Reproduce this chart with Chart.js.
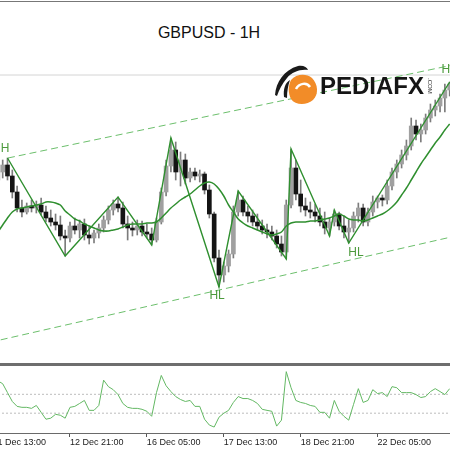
<!DOCTYPE html>
<html lang="en">
<head>
    <meta charset="UTF-8">
    <title>GBPUSD - 1H</title>
    <script src="https://cdn.jsdelivr.net/npm/chart.js"></script>
    <style>
        body {
            margin: 0;
            width: 450px;
            height: 450px;
            overflow: hidden;
            position: relative;
            background: #fff;
            font-family: "Liberation Sans", Arial, sans-serif;
        }
        #topline {
            position: absolute;
            left: 0; top: 1px;
            width: 450px; height: 1px;
            background: #777;
        }
        #title {
            position: absolute;
            left: 0; top: 24px;
            width: 418px;
            text-align: center;
            font-size: 16px;
            line-height: 18px;
            color: #111;
        }
        #priceChart {
            position: absolute;
            left: -10px; top: 40px;
        }
        #separator {
            position: absolute;
            left: 0; top: 363px;
            width: 450px; height: 3px;
            background: #6e6e6e;
        }
        #oscChart {
            position: absolute;
            left: -10px; top: 366px;
        }
        #logo {
            position: absolute;
            left: 0; top: 0;
            pointer-events: none;
        }
    </style>
</head>
<body>
    <div id="topline"></div>
    <div id="title">GBPUSD - 1H</div>
    <canvas id="priceChart" width="470" height="323"></canvas>
    <div id="separator"></div>
    <canvas id="oscChart" width="470" height="84"></canvas>

    <svg id="logo" width="450" height="450" viewBox="0 0 450 450">
        <path d="M275 95 C276 82 284 70 298 66 C303 65 307 67 308 70 C300 69 292 72 287 78 C282 84 279 90 277 96 Z" fill="#1a1a1a"/>
        <path d="M284 97 C283 89 285 83 290 80 C288 86 287 91 287 98 Z" fill="#1a1a1a"/>
        <path d="M291 80 C296 74 306 73 312 78 C318 84 319 94 313 100 C306 106 295 105 291 99 C288 93 288 86 291 80 Z" fill="#f28c28"/>
        <path d="M296 89 C299 83 307 82 310 87" stroke="#fff" stroke-width="2.5" fill="none"/>
        <text x="320" y="94" font-family="Liberation Sans, Arial, sans-serif" font-weight="bold" font-size="24" fill="#151515">PEDIAFX</text>
        <text transform="translate(428,78) rotate(90)" font-family="Liberation Sans, Arial, sans-serif" font-size="6" fill="#333">.COM</text>
    </svg>

    <script>
        // candles (one per two hours), prices
        const opens = [1.2895,1.2903,1.2910,1.2899,1.2883,1.2867,1.2863,1.2869,1.2867,1.2870,
            1.2863,1.2857,1.2853,1.2850,1.2839,1.2837,1.2849,1.2845,1.2851,1.2840,
            1.2837,1.2842,1.2847,1.2855,1.2865,1.2871,1.2867,1.2851,1.2847,1.2845,
            1.2849,1.2843,1.2841,1.2835,1.2853,1.2883,1.2909,1.2925,1.2903,1.2915,
            1.2897,1.2903,1.2899,1.2901,1.2885,1.2861,1.2817,1.2800,1.2809,1.2821,
            1.2863,1.2875,1.2863,1.2859,1.2853,1.2849,1.2845,1.2843,1.2839,1.2831,
            1.2823,1.2870,1.2907,1.2881,1.2869,1.2865,1.2863,1.2859,1.2853,1.2847,
            1.2853,1.2861,1.2849,1.2843,1.2847,1.2859,1.2867,1.2853,1.2863,1.2873,
            1.2877,1.2875,1.2889,1.2903,1.2911,1.2920,1.2929,1.2949,1.2941,1.2945,
            1.2957,1.2965,1.2969,1.2977,1.2985];
        const highs = [1.2907,1.2915,1.2917,1.2905,1.2889,1.2875,1.2872,1.2875,1.2874,1.2877,
            1.2869,1.2865,1.2861,1.2859,1.2845,1.2853,1.2857,1.2855,1.2856,1.2849,
            1.2845,1.2851,1.2859,1.2869,1.2875,1.2878,1.2873,1.2859,1.2853,1.2855,
            1.2854,1.2851,1.2847,1.2857,1.2887,1.2915,1.2937,1.2933,1.2923,1.2921,
            1.2907,1.2907,1.2905,1.2903,1.2890,1.2863,1.2825,1.2813,1.2825,1.2869,
            1.2884,1.2879,1.2869,1.2865,1.2861,1.2855,1.2851,1.2849,1.2845,1.2839,
            1.2875,1.2926,1.2915,1.2895,1.2877,1.2873,1.2871,1.2867,1.2863,1.2857,
            1.2865,1.2863,1.2859,1.2855,1.2863,1.2872,1.2871,1.2867,1.2879,1.2879,
            1.2880,1.2895,1.2907,1.2915,1.2925,1.2935,1.2957,1.2955,1.2951,1.2961,
            1.2971,1.2975,1.2981,1.2991,1.2993];
        const lows = [1.2887,1.2897,1.2895,1.2877,1.2863,1.2858,1.2861,1.2863,1.2862,1.2860,
            1.2853,1.2849,1.2845,1.2835,1.2819,1.2833,1.2841,1.2837,1.2835,1.2831,
            1.2832,1.2837,1.2843,1.2851,1.2860,1.2863,1.2847,1.2835,1.2839,1.2840,
            1.2839,1.2837,1.2830,1.2833,1.2851,1.2879,1.2903,1.2895,1.2889,1.2891,
            1.2893,1.2895,1.2893,1.2881,1.2857,1.2813,1.2788,1.2793,1.2803,1.2817,
            1.2859,1.2859,1.2853,1.2849,1.2845,1.2841,1.2837,1.2835,1.2827,1.2819,
            1.2816,1.2867,1.2875,1.2863,1.2859,1.2857,1.2853,1.2849,1.2841,1.2839,
            1.2849,1.2845,1.2837,1.2832,1.2843,1.2853,1.2849,1.2849,1.2859,1.2867,
            1.2869,1.2871,1.2885,1.2897,1.2907,1.2915,1.2925,1.2935,1.2933,1.2941,
            1.2953,1.2959,1.2963,1.2963,1.2979];
        const closes = [1.2903,1.2910,1.2899,1.2883,1.2867,1.2863,1.2869,1.2867,1.2870,1.2863,
            1.2857,1.2853,1.2850,1.2839,1.2837,1.2849,1.2845,1.2851,1.2840,1.2837,
            1.2842,1.2847,1.2855,1.2865,1.2871,1.2867,1.2851,1.2847,1.2845,1.2849,
            1.2843,1.2841,1.2835,1.2853,1.2883,1.2909,1.2925,1.2903,1.2915,1.2897,
            1.2903,1.2899,1.2901,1.2885,1.2861,1.2817,1.2800,1.2809,1.2821,1.2863,
            1.2875,1.2863,1.2859,1.2853,1.2849,1.2845,1.2843,1.2839,1.2831,1.2823,
            1.2870,1.2907,1.2881,1.2869,1.2865,1.2863,1.2859,1.2853,1.2847,1.2853,
            1.2861,1.2849,1.2843,1.2847,1.2859,1.2867,1.2853,1.2863,1.2873,1.2877,
            1.2875,1.2889,1.2903,1.2911,1.2920,1.2929,1.2949,1.2941,1.2945,1.2957,
            1.2965,1.2969,1.2977,1.2985,1.2991];

        // moving average
        const maLine = [1.2843,1.2850,1.2857,1.2863,1.2866,1.2867,1.2868,1.2869,1.2870,1.2871,
            1.2873,1.2873,1.2872,1.2870,1.2864,1.2860,1.2856,1.2854,1.2851,1.2849,
            1.2847,1.2845,1.2844,1.2844,1.2845,1.2846,1.2848,1.2850,1.2851,1.2851,
            1.2851,1.2852,1.2852,1.2853,1.2857,1.2862,1.2867,1.2871,1.2875,1.2878,
            1.2881,1.2885,1.2889,1.2892,1.2893,1.2891,1.2886,1.2879,1.2870,1.2863,
            1.2856,1.2852,1.2849,1.2847,1.2845,1.2843,1.2841,1.2840,1.2841,1.2843,
            1.2849,1.2852,1.2853,1.2853,1.2853,1.2854,1.2854,1.2855,1.2856,1.2857,
            1.2859,1.2861,1.2859,1.2856,1.2855,1.2855,1.2854,1.2855,1.2857,1.2859,
            1.2861,1.2864,1.2868,1.2873,1.2880,1.2887,1.2895,1.2903,1.2911,1.2918,
            1.2925,1.2932,1.2938,1.2945,1.2951];

        // zigzag swing points (candle index, price)
        const zigzagIdx = [2, 14, 25, 32, 36, 46, 50, 60, 61, 69, 70, 73, 94];
        const zigzagPrice = [1.2917, 1.2819, 1.2878, 1.2830, 1.2937, 1.2788, 1.2884, 1.2816, 1.2926, 1.2839, 1.2865, 1.2832, 1.2993];

        // channel lines
        const upperChannelIdx = [2.1, 96.15];
        const upperChannelPrice = [1.2917, 1.30115];
        const lowerChannelIdx = [-1.64, 96.15];
        const lowerChannelPrice = [1.27327, 1.2840];
        const levelPrice = 1.3000;

        // swing labels
        const swingText = ['H', 'HL', 'HL', 'H'];
        const swingIdx = [1.5, 45.6, 74.5, 93.2];
        const swingPrice = [1.2926, 1.2779, 1.2822, 1.3005];

        // oscillator
        const oscValues = [243,212,118,24,-28,-38,-38,-49,-18,-91,
            -164,-153,-112,-122,-153,-38,-28,3,35,-70,
            -70,-18,250,181,149,97,3,-38,-49,-49,
            -59,-80,-133,118,300,191,129,76,45,24,
            35,-28,-28,-164,-226,-247,-143,-101,-70,14,
            76,55,55,35,3,-59,-70,-80,-237,-174,
            340,170,35,14,3,-18,-28,-91,-91,-153,
            35,-80,-133,-174,-7,160,14,35,149,108,
            118,76,181,170,118,118,118,97,66,76,
            129,160,129,97,160];
        const oscLevels = [100, -100];

        // time axis
        const tickIdx = [-1, 15, 31, 47, 63, 79];
        const tickLabels = ['11 Dec 13:00', '12 Dec 21:00', '16 Dec 05:00', '17 Dec 13:00', '18 Dec 21:00', '22 Dec 05:00'];

        const xMin = -1.64, xMax = 96.15;
        const green = '#2f8f2f';
        const bullColor = '#a0a0a0';
        const bearColor = '#141414';

        const swingLabels = {
            id: 'swingLabels',
            afterDatasetsDraw(chart) {
                const {ctx, scales: {x, y}} = chart;
                ctx.save();
                ctx.font = '12px "Liberation Sans", Arial, sans-serif';
                ctx.fillStyle = '#4c9a3c';
                ctx.textAlign = 'center';
                ctx.textBaseline = 'middle';
                swingText.forEach((t, k) => {
                    ctx.fillText(t, x.getPixelForValue(swingIdx[k]), y.getPixelForValue(swingPrice[k]));
                });
                ctx.restore();
            }
        };

        const pts = (xs, ys) => xs.map((v, k) => ({x: v, y: ys[k]}));

        new Chart(document.getElementById('priceChart'), {
            type: 'bar',
            data: {
                datasets: [
                    {
                        type: 'line',
                        data: pts(zigzagIdx, zigzagPrice),
                        borderColor: green,
                        borderWidth: 1.4,
                        pointRadius: 0,
                        tension: 0,
                        order: 0
                    },
                    {
                        type: 'line',
                        data: maLine.map((v, i) => ({x: i, y: v})),
                        borderColor: green,
                        borderWidth: 1.5,
                        pointRadius: 0,
                        tension: 0.3,
                        order: 0
                    },
                    {
                        type: 'line',
                        data: pts(upperChannelIdx, upperChannelPrice),
                        borderColor: '#6cbf6c',
                        borderWidth: 1,
                        borderDash: [7, 4],
                        pointRadius: 0,
                        order: 0
                    },
                    {
                        type: 'line',
                        data: pts(lowerChannelIdx, lowerChannelPrice),
                        borderColor: '#6cbf6c',
                        borderWidth: 1,
                        borderDash: [7, 4],
                        pointRadius: 0,
                        order: 0
                    },
                    {
                        type: 'line',
                        data: [{x: xMin, y: levelPrice}, {x: xMax, y: levelPrice}],
                        borderColor: '#d4d4d4',
                        borderWidth: 1,
                        pointRadius: 0,
                        order: 3
                    },
                    {
                        // wicks
                        data: highs.map((h, i) => ({x: i, y: [lows[i], h]})),
                        backgroundColor: '#7c7c7c',
                        barThickness: 1,
                        grouped: false,
                        order: 2
                    },
                    {
                        // bodies
                        data: opens.map((o, i) => ({x: i, y: [o, closes[i]]})),
                        backgroundColor: ctx => closes[ctx.dataIndex] >= opens[ctx.dataIndex] ? bullColor : bearColor,
                        barThickness: 4,
                        minBarLength: 1,
                        grouped: false,
                        order: 1
                    }
                ]
            },
            options: {
                responsive: false,
                animation: false,
                layout: { padding: 0 },
                plugins: { legend: { display: false }, tooltip: { enabled: false } },
                scales: {
                    x: { type: 'linear', display: false, min: xMin, max: xMax, offset: false, bounds: 'data' },
                    y: { type: 'linear', display: false, min: 1.2712, max: 1.3035, beginAtZero: false }
                }
            },
            plugins: [swingLabels]
        });

        new Chart(document.getElementById('oscChart'), {
            type: 'line',
            data: {
                datasets: [
                    {
                        data: oscValues.map((v, i) => ({x: i, y: v})),
                        borderColor: '#63b863',
                        borderWidth: 1,
                        pointRadius: 0,
                        tension: 0
                    },
                    ...oscLevels.map(lv => ({
                        data: [{x: xMin, y: lv}, {x: xMax, y: lv}],
                        borderColor: '#bdbdbd',
                        borderWidth: 1,
                        borderDash: [2, 2],
                        pointRadius: 0
                    }))
                ]
            },
            options: {
                responsive: false,
                animation: false,
                layout: { padding: 0 },
                plugins: { legend: { display: false }, tooltip: { enabled: false } },
                scales: {
                    x: {
                        type: 'linear',
                        min: xMin,
                        max: xMax,
                        offset: false,
                        bounds: 'data',
                        afterBuildTicks: s => { s.ticks = tickIdx.map(v => ({value: v})); },
                        afterFit: s => { s.height = 17; },
                        border: { display: true, color: '#6a6a6a', width: 1 },
                        grid: { drawOnChartArea: false, drawTicks: true, tickLength: 4, color: '#555' },
                        ticks: {
                            autoSkip: false,
                            maxRotation: 0,
                            align: 'start',
                            padding: 0,
                            color: '#222',
                            font: { family: '"Liberation Sans", Arial, sans-serif', size: 9 },
                            callback: (value, index) => tickLabels[index]
                        }
                    },
                    y: { type: 'linear', display: false, min: -310, max: 400 }
                }
            }
        });
    </script>
</body>
</html>
